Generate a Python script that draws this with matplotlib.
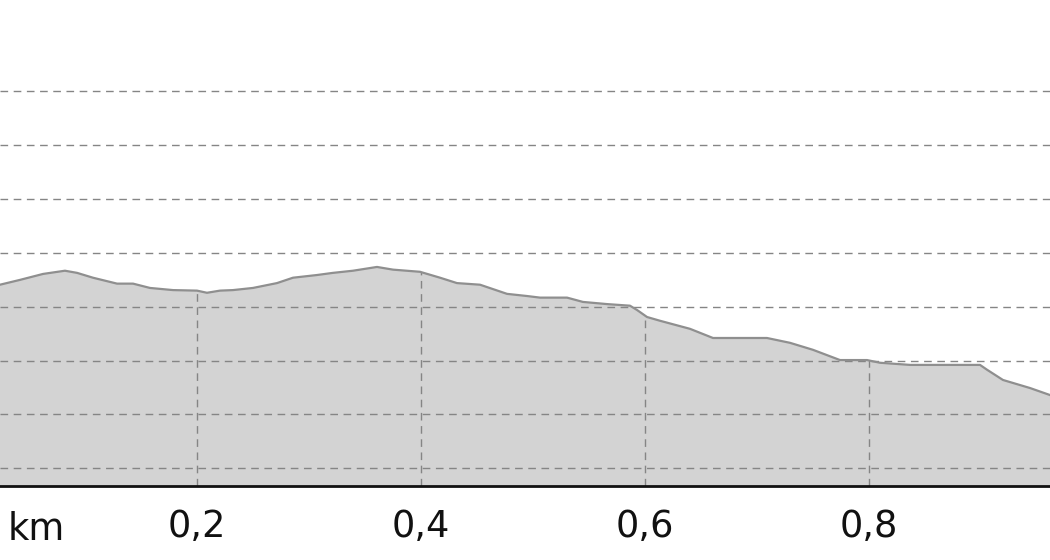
"""Elevation profile, grey area chart with dashed grid."""

import matplotlib

matplotlib.use("Agg")

import matplotlib.pyplot as plt
import numpy as np

# distance along the route (km) and elevation (m)
distance_km = [
    0.0241, 0.0420, 0.0625, 0.0821, 0.0929, 0.1071, 0.1286, 0.1429, 0.1580,
    0.1786, 0.2000, 0.2089, 0.2205, 0.2321, 0.2500, 0.2714, 0.2857, 0.3071,
    0.3214, 0.3393, 0.3607, 0.3750, 0.3991, 0.4170, 0.4321, 0.4527, 0.4768,
    0.4946, 0.5063, 0.5304, 0.5446, 0.5661, 0.5866, 0.5929, 0.6018, 0.6134,
    0.6402, 0.6607, 0.6848, 0.7089, 0.7295, 0.7500, 0.7741, 0.7982, 0.8098,
    0.8366, 0.8750, 0.8991, 0.9054, 0.9196, 0.9438, 0.9616,
]
elevation_m = [
    134.1, 135.0, 136.1, 136.7, 136.3, 135.4, 134.3, 134.3, 133.5,
    133.1, 133.0, 132.6, 133.0, 133.1, 133.5, 134.4, 135.4, 135.9,
    136.3, 136.7, 137.4, 136.9, 136.5, 135.4, 134.4, 134.1, 132.4,
    132.0, 131.7, 131.7, 130.9, 130.5, 130.2, 129.4, 128.1, 127.4,
    125.9, 124.2, 124.2, 124.2, 123.3, 122.0, 120.1, 120.1, 119.6,
    119.2, 119.2, 119.2, 118.3, 116.4, 114.9, 113.6,
]

x_ticks = [0.2, 0.4, 0.6, 0.8]
x_tick_labels = ["0,2", "0,4", "0,6", "0,8"]
y_grid = [100, 110, 120, 130, 140, 150, 160, 170]

x_range = (0.0241, 0.9616)
y_range = (96.7, 187.0)

fig = plt.figure(figsize=(10.5, 5.6), dpi=100)
ax = fig.add_axes([0.0, 74 / 560, 1.0, 486 / 560])

ax.fill_between(distance_km, elevation_m, y_range[0], color="#d3d3d3", lw=0, zorder=1)
ax.plot(distance_km, elevation_m, color="#8f8f8f", lw=1.6, zorder=3)

grid_style = dict(color="#858585", lw=1.0, linestyle=(0, (5.5, 4.0)), zorder=2)
for y in y_grid:
    ax.axhline(y, **grid_style)
# vertical grid only inside the filled profile
tops = np.interp(x_ticks, distance_km, elevation_m)
ax.vlines(x_ticks, y_range[0], tops, **grid_style)

ax.set_xlim(*x_range)
ax.set_ylim(*y_range)
ax.set_xticks(x_ticks)
ax.set_xticklabels(x_tick_labels)
ax.set_yticks([])
ax.tick_params(axis="x", length=0, pad=16, labelsize=26.5, labelcolor="#111111")

for side in ("top", "left", "right"):
    ax.spines[side].set_visible(False)
ax.spines["bottom"].set_color("#111111")
ax.spines["bottom"].set_linewidth(2.0)
ax.spines["bottom"].set_zorder(4)

fig.text(8 / 1050, 20 / 560, "km", fontsize=26.5, color="#111111",
         ha="left", va="baseline")

fig.savefig("out.png", dpi=100)
plt.close(fig)
